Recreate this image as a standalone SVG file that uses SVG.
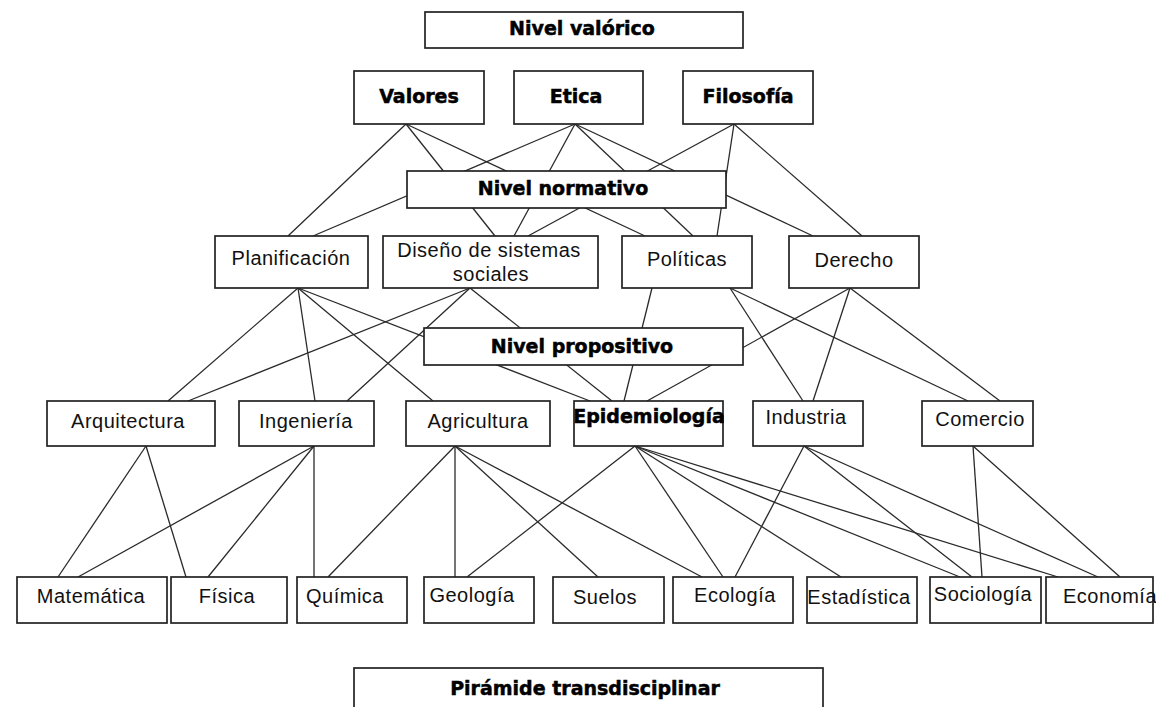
<svg xmlns="http://www.w3.org/2000/svg" width="1156" height="707" viewBox="0 0 1156 707">
<style>
.box{fill:#fff;stroke:#222;stroke-width:1.7}
.t{font-family:"Liberation Sans",Arial,sans-serif;font-size:20px;letter-spacing:0.5px;fill:#111;text-anchor:middle}
.b{font-family:"DejaVu Sans",Verdana,sans-serif;font-weight:bold;font-size:19px;fill:#000;stroke:#000;stroke-width:0.5;text-anchor:middle}
#connectors line{stroke:#2a2a2a;stroke-width:1.3}
</style>
<rect width="1156" height="707" fill="#fff"/>
<g id="connectors">
<line x1="406" y1="124" x2="288" y2="236"/>
<line x1="406" y1="124" x2="495" y2="236"/>
<line x1="406" y1="124" x2="645" y2="236"/>
<line x1="575" y1="124" x2="313" y2="236"/>
<line x1="575" y1="124" x2="514" y2="236"/>
<line x1="575" y1="124" x2="693" y2="236"/>
<line x1="575" y1="124" x2="813" y2="236"/>
<line x1="734" y1="124" x2="528" y2="236"/>
<line x1="734" y1="124" x2="717" y2="236"/>
<line x1="734" y1="124" x2="862" y2="236"/>
<line x1="298" y1="288" x2="168" y2="401"/>
<line x1="298" y1="288" x2="315" y2="401"/>
<line x1="298" y1="288" x2="433" y2="401"/>
<line x1="298" y1="288" x2="590" y2="401"/>
<line x1="470" y1="288" x2="188" y2="401"/>
<line x1="470" y1="288" x2="347" y2="401"/>
<line x1="470" y1="288" x2="612" y2="401"/>
<line x1="652" y1="288" x2="624" y2="401"/>
<line x1="730" y1="288" x2="803" y2="401"/>
<line x1="730" y1="288" x2="968" y2="401"/>
<line x1="850" y1="288" x2="647" y2="401"/>
<line x1="850" y1="288" x2="813" y2="401"/>
<line x1="850" y1="288" x2="1000" y2="401"/>
<line x1="146" y1="446" x2="58" y2="577"/>
<line x1="146" y1="446" x2="186" y2="577"/>
<line x1="314" y1="446" x2="78" y2="577"/>
<line x1="314" y1="446" x2="208" y2="577"/>
<line x1="314" y1="446" x2="314" y2="577"/>
<line x1="455" y1="446" x2="328" y2="577"/>
<line x1="455" y1="446" x2="455" y2="577"/>
<line x1="455" y1="446" x2="598" y2="577"/>
<line x1="455" y1="446" x2="702" y2="577"/>
<line x1="635" y1="446" x2="467" y2="577"/>
<line x1="635" y1="446" x2="723" y2="577"/>
<line x1="635" y1="446" x2="841" y2="577"/>
<line x1="635" y1="446" x2="960" y2="577"/>
<line x1="635" y1="446" x2="1058" y2="577"/>
<line x1="804" y1="446" x2="735" y2="577"/>
<line x1="804" y1="446" x2="972" y2="577"/>
<line x1="804" y1="446" x2="1098" y2="577"/>
<line x1="973" y1="446" x2="982" y2="577"/>
<line x1="973" y1="446" x2="1120" y2="577"/>
</g>
<g id="nivel-valorico"><rect class="box" x="425" y="12" width="318" height="36"/><text class="b" x="582" y="35">Nivel valórico</text></g>
<g id="valores"><rect class="box" x="354" y="71" width="130" height="53"/><text class="b" x="419" y="103" font-size="18.5">Valores</text></g>
<g id="etica"><rect class="box" x="514" y="71" width="129" height="53"/><text class="b" x="576" y="103" font-size="18.5">Etica</text></g>
<g id="filosofia"><rect class="box" x="683" y="71" width="130" height="53"/><text class="b" x="748" y="103" font-size="18.5">Filosofía</text></g>
<g id="nivel-normativo"><rect class="box" x="407" y="171" width="319" height="37"/><text class="b" x="563" y="195">Nivel normativo</text></g>
<g id="planificacion"><rect class="box" x="215" y="236" width="153" height="52"/><text class="t" x="291" y="265">Planificación</text></g>
<g id="diseno"><rect class="box" x="383" y="236" width="215" height="52"/><text class="t" x="489" y="257">Diseño de sistemas</text><text class="t" x="491" y="281">sociales</text></g>
<g id="politicas"><rect class="box" x="622" y="236" width="130" height="52"/><text class="t" x="687" y="266">Políticas</text></g>
<g id="derecho"><rect class="box" x="789" y="236" width="130" height="52"/><text class="t" x="854" y="267">Derecho</text></g>
<g id="nivel-propositivo"><rect class="box" x="424" y="328" width="319" height="37"/><text class="b" x="582" y="353">Nivel propositivo</text></g>
<g id="arquitectura"><rect class="box" x="47" y="401" width="168" height="45"/><text class="t" x="128" y="428">Arquitectura</text></g>
<g id="ingenieria"><rect class="box" x="239" y="401" width="135" height="45"/><text class="t" x="306" y="428">Ingeniería</text></g>
<g id="agricultura"><rect class="box" x="406" y="401" width="144" height="45"/><text class="t" x="478" y="428">Agricultura</text></g>
<g id="epidemiologia"><rect class="box" x="574" y="401" width="149" height="45"/><text class="b" x="649" y="423" font-size="18.3">Epidemiología</text></g>
<g id="industria"><rect class="box" x="753" y="401" width="110" height="45"/><text class="t" x="806" y="424">Industria</text></g>
<g id="comercio"><rect class="box" x="922" y="401" width="111" height="45"/><text class="t" x="980" y="426">Comercio</text></g>
<g id="matematica"><rect class="box" x="17" y="577" width="150" height="46"/><text class="t" x="91" y="603">Matemática</text></g>
<g id="fisica"><rect class="box" x="171" y="577" width="116" height="46"/><text class="t" x="227" y="603">Física</text></g>
<g id="quimica"><rect class="box" x="297" y="577" width="110" height="46"/><text class="t" x="345" y="603">Química</text></g>
<g id="geologia"><rect class="box" x="424" y="577" width="110" height="46"/><text class="t" x="472" y="602">Geología</text></g>
<g id="suelos"><rect class="box" x="553" y="577" width="111" height="46"/><text class="t" x="605" y="604">Suelos</text></g>
<g id="ecologia"><rect class="box" x="673" y="577" width="120" height="46"/><text class="t" x="735" y="602">Ecología</text></g>
<g id="estadistica"><rect class="box" x="807" y="577" width="110" height="46"/><text class="t" x="859" y="604">Estadística</text></g>
<g id="sociologia"><rect class="box" x="930" y="577" width="111" height="46"/><text class="t" x="983" y="601">Sociología</text></g>
<g id="economia"><rect class="box" x="1046" y="577" width="107" height="46"/><text class="t" x="1110" y="603">Economía</text></g>
<g id="piramide"><rect class="box" x="354" y="668" width="469" height="60"/><text class="b" x="585" y="695" font-size="22.7">Pirámide transdisciplinar</text></g>
</svg>
